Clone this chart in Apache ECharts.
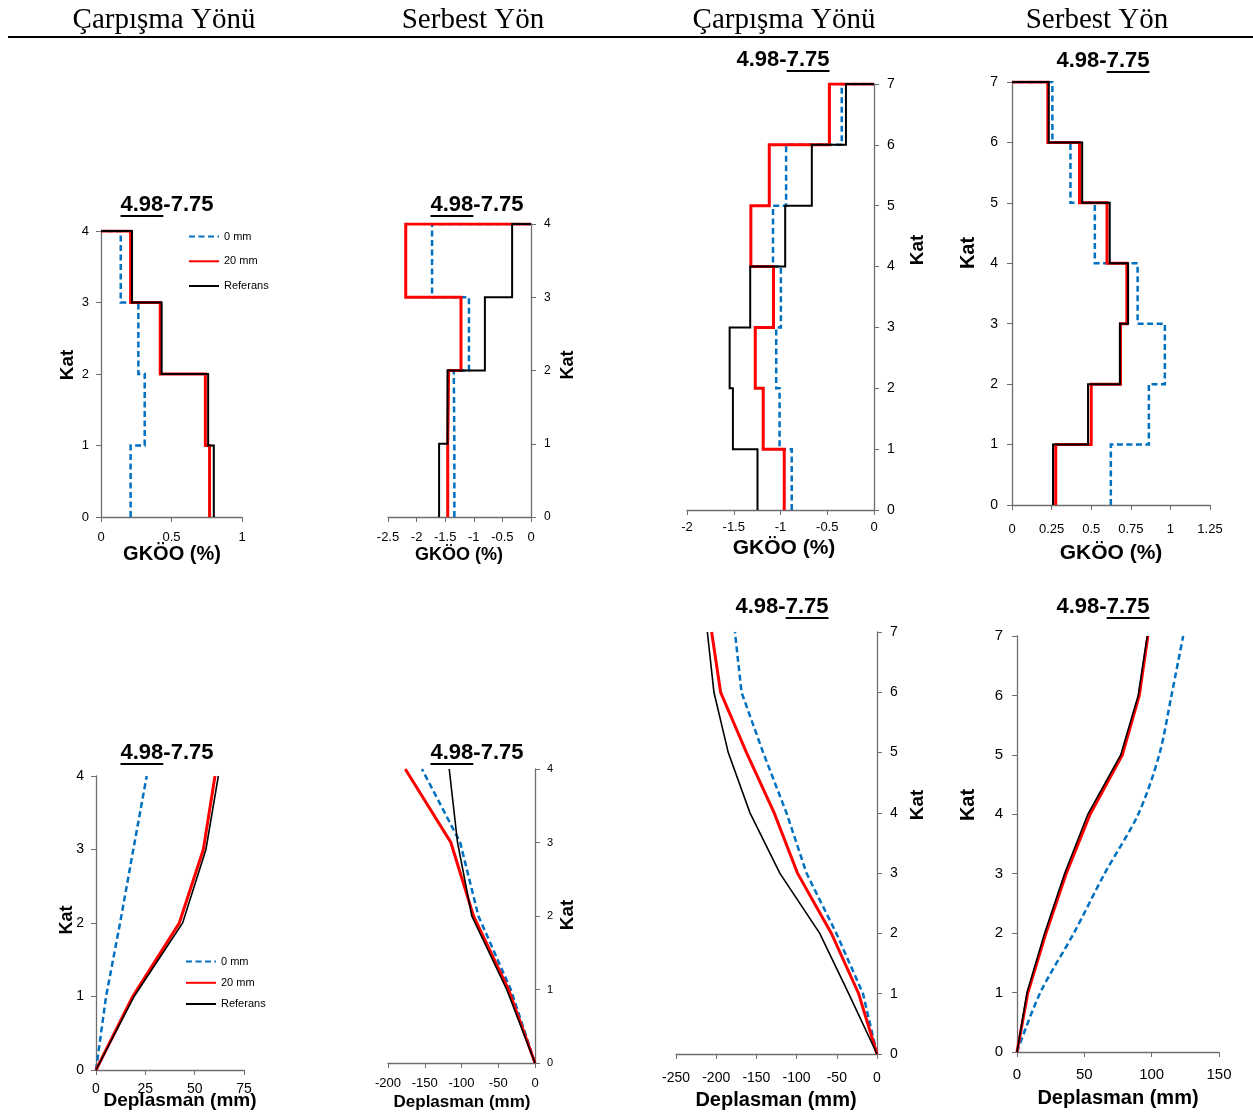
<!DOCTYPE html>
<html><head><meta charset="utf-8">
<script src="https://cdn.jsdelivr.net/npm/echarts@6/dist/echarts.min.js"></script>
<style>html,body{margin:0;padding:0;background:#fff}#c{width:1253px;height:1118px}</style>
</head><body><div id="c"></div>
<script>
// ---------- DATA ----------
const seriesNames = ['0 mm', '20 mm', 'Referans'];
const headerLabels = ['Çarpışma Yönü', 'Serbest Yön', 'Çarpışma Yönü', 'Serbest Yön'];
const titleText = '4.98-7.75';
const driftAxisName = 'GKÖO (%)';
const dispAxisName = 'Deplasman (mm)';
const floorAxisName = 'Kat';

// Story drift ratios (GKÖO, %) per story, story 1 (bottom) first
const drift4Carp_0mm  = [0.21, 0.31, 0.265, 0.14];
const drift4Carp_20mm = [0.77, 0.74, 0.42, 0.21];
const drift4Carp_ref  = [0.80, 0.76, 0.43, 0.22];

const drift4Serb_0mm  = [-1.34, -1.35, -1.085, -1.73];
const drift4Serb_20mm = [-1.456, -1.44, -1.224, -2.19];
const drift4Serb_ref  = [-1.607, -1.46, -0.806, -0.33];

const drift7Carp_0mm  = [-0.88, -1.01, -1.046, -0.996, -1.08, -0.94, -0.345];
const drift7Carp_20mm = [-0.96, -1.185, -1.27, -1.075, -1.317, -1.12, -0.477];
const drift7Carp_ref  = [-1.246, -1.509, -1.544, -1.324, -0.95, -0.665, -0.30];

const drift7Serb_0mm  = [0.624, 0.864, 0.965, 0.793, 0.523, 0.369, 0.255];
const drift7Serb_20mm = [0.276, 0.50, 0.685, 0.725, 0.60, 0.426, 0.226];
const drift7Serb_ref  = [0.259, 0.48, 0.681, 0.733, 0.617, 0.443, 0.232];

// Floor displacements (mm), floor 0 first
const disp4Carp_0mm  = [0, 5.1, 12.2, 18.9, 25.7];
const disp4Carp_20mm = [0, 18.6, 42.2, 54.4, 60.3];
const disp4Carp_ref  = [0, 19.3, 43.9, 55.7, 62.0];

const disp4Serb_0mm  = [0, -33, -77, -101.8, -153.8];
const disp4Serb_20mm = [0, -36, -83.7, -114.5, -176.5];
const disp4Serb_ref  = [0, -38.5, -86, -105.4, -116.7];

const disp7Carp_0mm  = [0, -17.4, -50.5, -87.7, -112.6, -141.6, -168.5, -176.7];
const disp7Carp_20mm = [0, -22.8, -56.7, -98.9, -127.9, -162.3, -194.5, -205.7];
const disp7Carp_ref  = [0, -35.2, -71.2, -120.9, -158, -185, -202.8, -211];

const disp7Serb_0mm  = [0, 17.3, 42.2, 65.0, 90, 105.6, 114.7, 123.4];
const disp7Serb_20mm = [0, 8.1, 21.5, 36.5, 54.3, 78.2, 90.8, 97.2];
const disp7Serb_ref  = [0, 7.4, 20.5, 35.3, 52.6, 77, 90, 96.7];

// Axis ranges [min, max, interval]
const xRangeDrift4Carp = [0, 1, 0.5];
const xRangeDrift4Serb = [-2.5, 0, 0.5];
const xRangeDrift7Carp = [-2, 0, 0.5];
const xRangeDrift7Serb = [0, 1.25, 0.25];
const xRangeDisp4Carp = [0, 75, 25];
const xRangeDisp4Serb = [-200, 0, 50];
const xRangeDisp7Carp = [-250, 0, 50];
const xRangeDisp7Serb = [0, 150, 50];

// ---------- LAYOUT / STYLE ----------
const FONT = 'Arial, "Liberation Sans", sans-serif';
const colors = ['#0070C0', '#FF0000', '#000000'];

const panels = [
  {kind:'drift', sets:[drift4Carp_0mm, drift4Carp_20mm, drift4Carp_ref], xr:xRangeDrift4Carp, ymax:4,
   grid:{left:101, top:231, width:141, height:286}, yPos:'left', xfs:13, xm:14, yfs:13, ym:12,
   title:[167,205,true], xname:[172,554,20], kat:[68,365,19]},
  {kind:'drift', sets:[drift4Serb_0mm, drift4Serb_20mm, drift4Serb_ref], xr:xRangeDrift4Serb, ymax:4,
   grid:{left:388, top:224, width:143, height:293}, yPos:'right', xfs:13, xm:14, yfs:12, ym:13,
   title:[477,205,true], xname:[459,555,18], kat:[568,365,18]},
  {kind:'drift', sets:[drift7Carp_0mm, drift7Carp_20mm, drift7Carp_ref], xr:xRangeDrift7Carp, ymax:7,
   grid:{left:687, top:84, width:187, height:426}, yPos:'right', xfs:13, xm:11, yfs:14, ym:13,
   title:[783,60,false], xname:[784,548,21], kat:[918,250,19]},
  {kind:'drift', sets:[drift7Serb_0mm, drift7Serb_20mm, drift7Serb_ref], xr:xRangeDrift7Serb, ymax:7,
   grid:{left:1012, top:82, width:198, height:423}, yPos:'left', xfs:13, xm:18, yfs:14, ym:14,
   title:[1103,61,false], xname:[1111,553,21], kat:[968,253,20]},
  {kind:'disp', sets:[disp4Carp_0mm, disp4Carp_20mm, disp4Carp_ref], xr:xRangeDisp4Carp, ymax:4,
   grid:{left:96, top:776, width:148, height:294}, yPos:'left', xfs:14, xm:12, yfs:14, ym:12,
   title:[167,753,true], xname:[180,1101,19], kat:[67,920,18]},
  {kind:'disp', sets:[disp4Serb_0mm, disp4Serb_20mm, disp4Serb_ref], xr:xRangeDisp4Serb, ymax:4,
   grid:{left:388, top:769, width:147, height:294}, yPos:'right', xfs:13, xm:14, yfs:11, ym:12,
   title:[477,753,true], xname:[462,1102,17], kat:[568,915,19]},
  {kind:'disp', sets:[disp7Carp_0mm, disp7Carp_20mm, disp7Carp_ref], xr:xRangeDisp7Carp, ymax:7,
   grid:{left:676, top:632, width:201, height:422}, yPos:'right', xfs:14, xm:17, yfs:14, ym:13,
   title:[782,607,false], xname:[776,1100,20], kat:[918,805,19]},
  {kind:'disp', sets:[disp7Serb_0mm, disp7Serb_20mm, disp7Serb_ref], xr:xRangeDisp7Serb, ymax:7,
   grid:{left:1017, top:636, width:202, height:416}, yPos:'left', xfs:15, xm:15, yfs:15, ym:14,
   title:[1103,607,false], xname:[1118,1098,20], kat:[968,805,20], smoothBlue:true}
];

function stepPoints(drifts) {
  const pts = [];
  drifts.forEach((d, i) => { pts.push([d, i]); pts.push([d, i + 1]); });
  pts.push([0, drifts.length]);
  return pts;
}
function dispPoints(disp) { return disp.map((d, i) => [d, i]); }

function measure(text, font) {
  const c = document.createElement('canvas').getContext('2d');
  c.font = font; return c.measureText(text).width;
}

const grids = [], xAxes = [], yAxes = [], series = [], graphics = [];
const axisColor = '#6e6e6e';

panels.forEach((p, k) => {
  grids.push(Object.assign({containLabel:false}, p.grid));
  xAxes.push({type:'value', gridIndex:k, min:p.xr[0], max:p.xr[1], interval:p.xr[2],
    axisLine:{show:true, onZero:false, lineStyle:{color:axisColor, width:1.3}},
    axisTick:{show:true, length:5, lineStyle:{color:axisColor}},
    axisLabel:{fontSize:p.xfs, margin:p.xm, color:'#000', fontFamily:FONT},
    splitLine:{show:false}});
  yAxes.push({type:'value', gridIndex:k, min:0, max:p.ymax, interval:1, position:p.yPos,
    axisLine:{show:true, onZero:false, lineStyle:{color:axisColor, width:1.3}},
    axisTick:{show:true, length:5, lineStyle:{color:axisColor}},
    axisLabel:{fontSize:p.yfs, margin:p.ym, color:'#000', fontFamily:FONT},
    splitLine:{show:false}});
  p.sets.forEach((arr, j) => {
    const pts = p.kind === 'drift' ? stepPoints(arr) : dispPoints(arr);
    series.push({type:'line', name:seriesNames[j], xAxisIndex:k, yAxisIndex:k, data:pts,
      symbol:'none', showSymbol:false, animation:false, z:2 + j,
      smooth: (j === 0 && p.smoothBlue) ? 0.3 : false,
      lineStyle:{color:colors[j], width: j === 1 ? 3 : (j === 0 ? 2.5 : (p.kind === 'drift' ? 2 : 1.6)),
        type: j === 0 ? [6, 3.5] : 'solid', cap:'butt', join:'miter'},
      itemStyle:{color:colors[j]}});
  });
  // title with underline
  const tfont = 'bold 22px ' + FONT;
  const parts = titleText.split('-');
  const full = measure(titleText, tfont);
  const left = p.title[0] - full / 2;
  let u1, u2;
  if (p.title[2]) { u1 = left; u2 = left + measure(parts[0], tfont); }
  else { u2 = left + full; u1 = u2 - measure(parts[1], tfont); }
  graphics.push({type:'text', x:left, y:p.title[1], silent:true,
    style:{text:titleText, font:tfont, fill:'#000', align:'left', verticalAlign:'middle'}});
  graphics.push({type:'line', silent:true, shape:{x1:u1, y1:p.title[1] + 11, x2:u2, y2:p.title[1] + 11},
    style:{stroke:'#000', lineWidth:2}});
  // axis names
  graphics.push({type:'text', x:p.xname[0], y:p.xname[1], silent:true,
    style:{text: p.kind === 'drift' ? driftAxisName : dispAxisName, font:'bold ' + p.xname[2] + 'px ' + FONT,
      fill:'#000', align:'center', verticalAlign:'middle'}});
  graphics.push({type:'text', x:p.kat[0], y:p.kat[1], rotation:Math.PI / 2, silent:true,
    style:{text:floorAxisName, font:'bold ' + p.kat[2] + 'px ' + FONT, fill:'#000', align:'center', verticalAlign:'middle'}});
});

// header
const headerCenters = [164, 473, 784, 1097];
headerLabels.forEach((t, i) => {
  graphics.push({type:'text', x:headerCenters[i], y:20, silent:true,
    style:{text:t, font:'29px "Liberation Serif", "Times New Roman", serif', fill:'#000', align:'center', verticalAlign:'middle'}});
});
graphics.push({type:'line', silent:true, shape:{x1:8, y1:37, x2:1253, y2:37}, style:{stroke:'#000', lineWidth:2}});

const legendBase = {data:seriesNames, orient:'vertical', itemWidth:30, itemHeight:14, padding:0,
  textStyle:{fontSize:11, fontFamily:FONT, color:'#000'}, itemStyle:{opacity:0}, selectedMode:false};

const chart = echarts.init(document.getElementById('c'), null, {renderer:'canvas'});
chart.setOption({
  animation:false,
  backgroundColor:'#fff',
  grid:grids, xAxis:xAxes, yAxis:yAxes, series:series,
  legend:[
    Object.assign({}, legendBase, {left:188, top:231, itemGap:13.5}),
    Object.assign({}, legendBase, {left:185, top:956, itemGap:10})
  ],
  graphic:{elements:graphics}
});
</script>
</body></html>
